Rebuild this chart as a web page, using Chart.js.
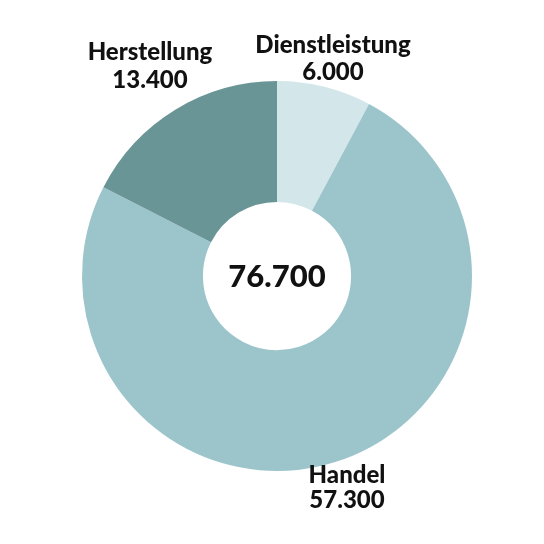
<!DOCTYPE html><html><head><script src="https://cdn.jsdelivr.net/npm/chart.js@4"></script>
<style>body{margin:0;background:#fff}#c{width:544px;height:544px}</style></head><body><div id="c"><canvas id="cv"></canvas></div>
<script>
const categories=["Dienstleistung","Handel","Herstellung"];
const values=[6000,57300,13400];
const valueLabels=["6.000","57.300","13.400"];
const totalLabel="76.700";
const colors=["#d3e6ea","#9cc5cb","#6a9597"];
const labelPos=[[333,45,72],[347,475,500],[150,52,80]];
const txt={id:'txt',afterDraw(ch){const c=ch.ctx;c.save();c.fillStyle='#111';c.textAlign='center';c.textBaseline='middle';
c.font='900 24px Lato';categories.forEach((n,i)=>{const p=labelPos[i];c.fillText(n,p[0],p[1]);c.fillText(valueLabels[i],p[0],p[2]);});
c.font='900 31px Lato';const m=ch.getDatasetMeta(0).data[0];c.fillText(totalLabel,m.x,m.y+1);c.restore();}};
new Chart(document.getElementById('cv'),{type:'doughnut',data:{labels:categories,datasets:[{data:values,backgroundColor:colors,borderWidth:0}]},
options:{responsive:true,maintainAspectRatio:false,animation:false,cutout:'38%',layout:{padding:{left:82,right:72,top:81,bottom:73}},
plugins:{legend:{display:false},tooltip:{enabled:false}}},plugins:[txt]});
</script></body></html>
